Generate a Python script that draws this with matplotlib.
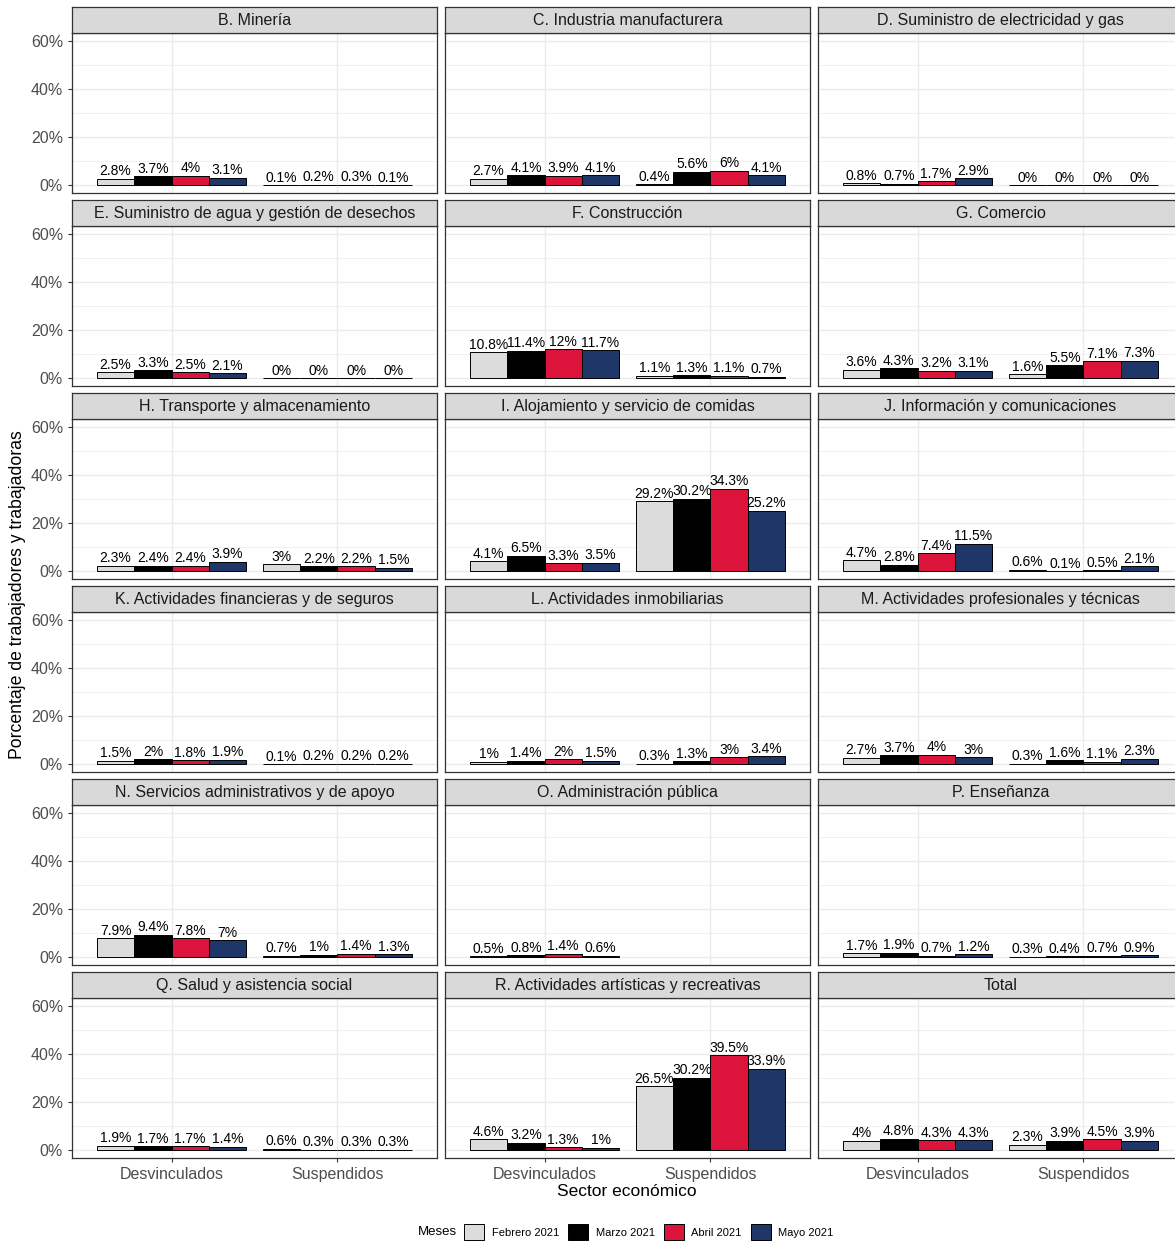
import numpy as np
import matplotlib
matplotlib.use("Agg")
import matplotlib.pyplot as plt
from matplotlib.patches import Patch

plt.rcParams['font.family'] = ['Liberation Sans', 'DejaVu Sans']

# datos: porcentaje por sector, grupo (Desvinculados / Suspendidos) y mes
sectores = [
    "B. Minería", "C. Industria manufacturera", "D. Suministro de electricidad y gas",
    "E. Suministro de agua y gestión de desechos", "F. Construcción", "G. Comercio",
    "H. Transporte y almacenamiento", "I. Alojamiento y servicio de comidas",
    "J. Información y comunicaciones", "K. Actividades financieras y de seguros",
    "L. Actividades inmobiliarias", "M. Actividades profesionales y técnicas",
    "N. Servicios administrativos y de apoyo", "O. Administración pública",
    "P. Enseñanza", "Q. Salud y asistencia social",
    "R. Actividades artísticas y recreativas", "Total",
]
grupos = ["Desvinculados", "Suspendidos"]
meses = ["Febrero 2021", "Marzo 2021", "Abril 2021", "Mayo 2021"]
colores = ["#DCDCDC", "#000000", "#DC143C", "#1F3669"]

desvinculados = [
    [2.8, 3.7, 4, 3.1], [2.7, 4.1, 3.9, 4.1], [0.8, 0.7, 1.7, 2.9],
    [2.5, 3.3, 2.5, 2.1], [10.8, 11.4, 12, 11.7], [3.6, 4.3, 3.2, 3.1],
    [2.3, 2.4, 2.4, 3.9], [4.1, 6.5, 3.3, 3.5], [4.7, 2.8, 7.4, 11.5],
    [1.5, 2, 1.8, 1.9], [1, 1.4, 2, 1.5], [2.7, 3.7, 4, 3],
    [7.9, 9.4, 7.8, 7], [0.5, 0.8, 1.4, 0.6], [1.7, 1.9, 0.7, 1.2],
    [1.9, 1.7, 1.7, 1.4], [4.6, 3.2, 1.3, 1], [4, 4.8, 4.3, 4.3],
]
suspendidos = [
    [0.1, 0.2, 0.3, 0.1], [0.4, 5.6, 6, 4.1], [0, 0, 0, 0],
    [0, 0, 0, 0], [1.1, 1.3, 1.1, 0.7], [1.6, 5.5, 7.1, 7.3],
    [3, 2.2, 2.2, 1.5], [29.2, 30.2, 34.3, 25.2], [0.6, 0.1, 0.5, 2.1],
    [0.1, 0.2, 0.2, 0.2], [0.3, 1.3, 3, 3.4], [0.3, 1.6, 1.1, 2.3],
    [0.7, 1, 1.4, 1.3], [np.nan] * 4, [0.3, 0.4, 0.7, 0.9],
    [0.6, 0.3, 0.3, 0.3], [26.5, 30.2, 39.5, 33.9], [2.3, 3.9, 4.5, 3.9],
]

W, H = 1175, 1242
fig = plt.figure(figsize=(W / 100, H / 100), dpi=100)


def rect(x0, y0, x1, y1):
    return [x0 / W, 1 - y1 / H, (x1 - x0) / W, (y1 - y0) / H]


col_left = [72, 445, 818]
panel_w = 365
bar_w = 0.225
grid_col = "#EBEBEB"
border_col = "#333333"
text_col = "#4D4D4D"

for i, sector in enumerate(sectores):
    r, c = divmod(i, 3)
    x0 = col_left[c]
    top = 33 + 193 * r
    bot = 193 + 193 * r

    ax = fig.add_axes(rect(x0, top, x0 + panel_w, bot))
    ax.set_xlim(0.4, 2.6)
    ax.set_ylim(-3.2, 63.2)
    ax.set_yticks([0, 20, 40, 60])
    ax.set_yticks([10, 30, 50], minor=True)
    ax.set_xticks([1, 2])
    ax.grid(True, which='major', color=grid_col, linewidth=1.0)
    ax.grid(True, which='minor', axis='y', color=grid_col, linewidth=0.5)
    ax.set_axisbelow(True)
    for s in ax.spines.values():
        s.set_color(border_col)
        s.set_linewidth(0.9)

    data = [desvinculados[i], suspendidos[i]]
    for j in range(4):
        vals = np.array([data[0][j], data[1][j]], dtype=float)
        xs = np.array([1, 2]) + (j - 1.5) * bar_w
        ok = ~np.isnan(vals)
        ax.bar(xs[ok], vals[ok], width=bar_w, color=colores[j],
               edgecolor="black", linewidth=0.7, zorder=2)
        for xv, v in zip(xs[ok], vals[ok]):
            ax.annotate(f"{v:g}%", (xv, v), xytext=(0, 0.3),
                        textcoords="offset points", ha="center", va="bottom",
                        fontsize=10, color="black", zorder=3)

    ax.tick_params(axis='both', which='minor', length=0)
    ax.tick_params(axis='both', which='major', color=border_col, length=3,
                   labelcolor=text_col)
    if c == 0:
        ax.set_yticklabels(["0%", "20%", "40%", "60%"], fontsize=11.5)
    else:
        ax.tick_params(axis='y', length=0, labelleft=False)
    if r == 5:
        ax.set_xticklabels(grupos, fontsize=11.5)
    else:
        ax.tick_params(axis='x', length=0, labelbottom=False)

    # strip superior con el nombre del sector
    sax = fig.add_axes(rect(x0, 7 + 193 * r, x0 + panel_w, top))
    sax.set_facecolor("#D9D9D9")
    sax.set_xticks([])
    sax.set_yticks([])
    for s in sax.spines.values():
        s.set_color(border_col)
        s.set_linewidth(0.9)
    sax.text(0.5, 0.47, sector, ha="center", va="center", fontsize=11.5,
             color="#1A1A1A", transform=sax.transAxes)

fig.text(18 / W, 1 - 595 / H, "Porcentaje de trabajadores y trabajadoras",
         rotation=90, ha="center", va="center", fontsize=12.7)
fig.text(627 / W, 1 - 1191 / H, "Sector económico", ha="center", va="center",
         fontsize=12.5)

# leyenda
fig.text(418 / W, 1 - 1232 / H, "Meses", ha="left", va="center", fontsize=9.5)
handles = [Patch(facecolor=col, edgecolor="black", linewidth=0.7) for col in colores]
fig.legend(handles, meses, loc="center left", bbox_to_anchor=(464 / W, 1 - 1232 / H),
           ncol=4, frameon=False, fontsize=8, handlelength=1.8, handleheight=1.8,
           handletextpad=0.7, columnspacing=0.8, borderpad=0, borderaxespad=0)

fig.savefig("out.png", dpi=100)
